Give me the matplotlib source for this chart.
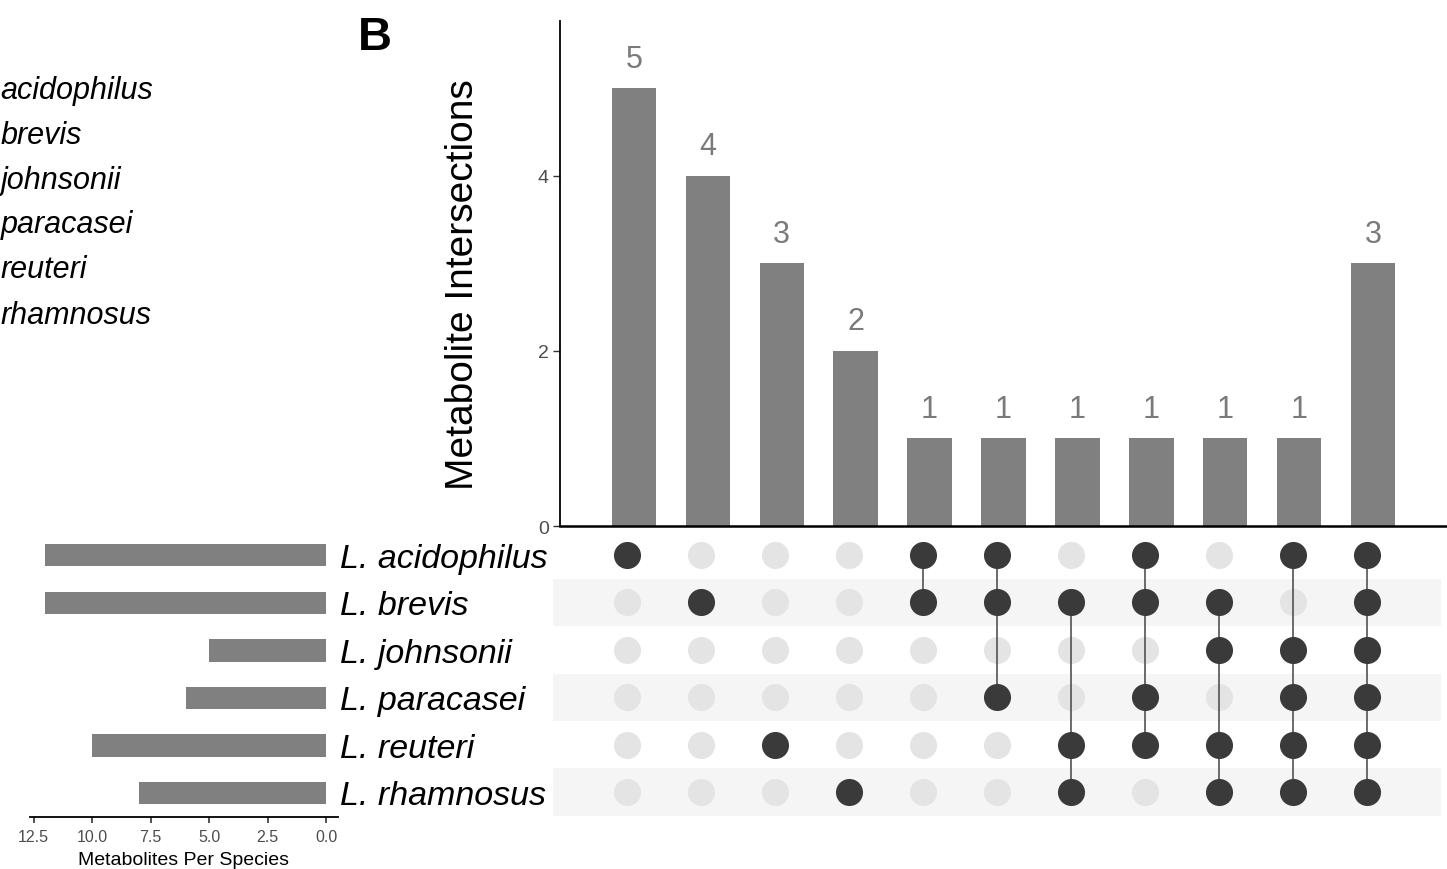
import matplotlib
matplotlib.use("Agg")
import matplotlib.pyplot as plt
import matplotlib.transforms as mtransforms
import numpy as np

plt.rcParams['font.family'] = ['Liberation Sans', 'DejaVu Sans']

species = ["L. acidophilus", "L. brevis", "L. johnsonii", "L. paracasei", "L. reuteri", "L. rhamnosus"]
legend_words = ["acidophilus", "brevis", "johnsonii", "paracasei", "reuteri", "rhamnosus"]
set_sizes = [12, 12, 5, 6, 10, 8]
intersection_counts = [5, 4, 3, 2, 1, 1, 1, 1, 1, 1, 3]
intersection_sets = [
    ["L. acidophilus"],
    ["L. brevis"],
    ["L. reuteri"],
    ["L. rhamnosus"],
    ["L. acidophilus", "L. brevis"],
    ["L. acidophilus", "L. brevis", "L. paracasei"],
    ["L. brevis", "L. reuteri", "L. rhamnosus"],
    ["L. acidophilus", "L. brevis", "L. paracasei", "L. reuteri"],
    ["L. brevis", "L. johnsonii", "L. reuteri", "L. rhamnosus"],
    ["L. acidophilus", "L. johnsonii", "L. paracasei", "L. reuteri", "L. rhamnosus"],
    species,
]
y_ticks = [0, 2, 4]
set_ticks = [0.0, 2.5, 5.0, 7.5, 10.0, 12.5]

W, H = 1447, 870
fig = plt.figure(figsize=(W / 100, H / 100), dpi=100)

def rect(l, t, r, b):
    return [l / W, 1 - b / H, (r - l) / W, (b - t) / H]

BAR = '#808080'
DARK = '#3a3a3a'
LIGHT = '#e4e4e4'
BAND = '#f5f5f5'

# --- Top intersection bars ---
ax_top = fig.add_axes(rect(560, 22, 1447, 527))
xs = np.arange(1, len(intersection_counts) + 1)
ax_top.bar(xs, intersection_counts, width=0.6, color=BAR, zorder=2)
for x, v in zip(xs, intersection_counts):
    ax_top.annotate(str(v), (x, v), xytext=(0, 15.5), textcoords='offset points',
                    ha='center', va='baseline', fontsize=22, color='#7a7a7a')
ax_top.set_xlim(0, 12)
ax_top.set_ylim(0, 5.77)
ax_top.set_yticks(y_ticks)
ax_top.set_yticklabels([str(t) for t in y_ticks], fontsize=14, color='#4d4d4d')
ax_top.tick_params(axis='y', length=5, width=1, color='#333333', pad=3)
ax_top.set_xticks([])
for s in ['top', 'right']:
    ax_top.spines[s].set_visible(False)
ax_top.spines['left'].set_linewidth(1.3)
ax_top.spines['bottom'].set_linewidth(1.8)
ax_top.patch.set_alpha(0)
fig.text(463 / W, 1 - 285 / H, "Metabolite Intersections", rotation=90,
         ha='center', va='center', fontsize=28, color='black')

# --- Matrix ---
ax_mat = fig.add_axes(rect(553, 532.3, 1441, 816.7))
n = len(species)
ax_mat.set_xlim(0, 12)
ax_mat.set_ylim(n - 0.5, -0.5)
for i in range(n):
    if i % 2 == 1:
        ax_mat.axhspan(i - 0.5, i + 0.5, xmin=0, xmax=1.003, color=BAND, zorder=0, lw=0)
for j, sets in enumerate(intersection_sets):
    x = j + 1
    active = [species.index(s) for s in sets]
    inactive = [i for i in range(n) if i not in active]
    ax_mat.scatter([x] * len(inactive), inactive, s=380, color=LIGHT, zorder=2, lw=0)
    if len(active) > 1:
        ax_mat.plot([x, x], [min(active), max(active)], color='#444444', lw=1.1, zorder=3)
    ax_mat.scatter([x] * len(active), active, s=380, color=DARK, zorder=4, lw=0)
ax_mat.axis('off')

# --- Set size bars ---
ax_set = fig.add_axes(rect(30, 532.3, 338, 818))
ax_set.barh(np.arange(n), set_sizes, height=0.47, color=BAR)
ax_set.set_ylim(n - 0.5, -0.5)
ax_set.set_xlim(12.65, -0.51)
ax_set.set_xticks(set_ticks)
ax_set.set_xticklabels([f"{t:.1f}" for t in set_ticks], fontsize=11.5, color='#4d4d4d')
ax_set.tick_params(axis='x', length=4, width=1.2, color='#333333', pad=5)
ax_set.set_yticks([])
for s in ['top', 'right', 'left']:
    ax_set.spines[s].set_visible(False)
ax_set.spines['bottom'].set_linewidth(1.3)
ax_set.set_xlabel("Metabolites Per Species", fontsize=14, color='black', labelpad=5)
ax_set.patch.set_alpha(0)

# --- Set labels ---
trans = mtransforms.blended_transform_factory(fig.transFigure, ax_mat.transData)
for i, sp in enumerate(species):
    fig.text(340 / W, i, sp, transform=trans, ha='left', va='center_baseline',
             fontsize=24.5, style='italic', color='black')

# --- Top-left legend text (left part lies outside the panel in the reference) ---
legend_y = [88, 133, 178, 222, 267, 312]
for w, py in zip(legend_words, legend_y):
    fig.text(0.5 / W, 1 - py / H, w, ha='left', va='center_baseline', fontsize=22,
             style='italic', color='black')

# --- Panel label ---
fig.text(358 / W, 1 - 38 / H, "B", fontsize=34, fontweight='bold', ha='left', va='center')

fig.savefig("out.png", dpi=100)
